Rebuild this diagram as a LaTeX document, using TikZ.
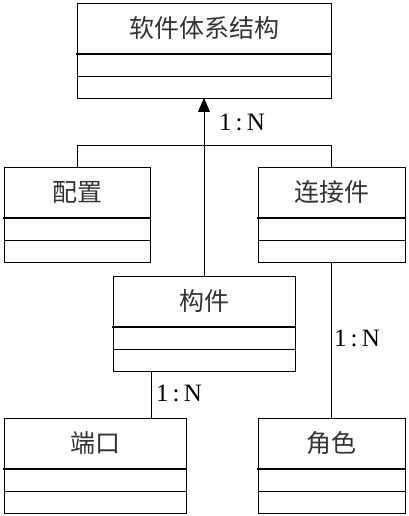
\documentclass[tikz,border=0pt]{standalone}
\usepackage{fontspec}
\setmainfont{Liberation Serif}
\newfontfamily\cjk{Noto Sans CJK SC}
\usepackage{tikz}
\usetikzlibrary{positioning,arrows.meta}

\begin{document}
\begin{tikzpicture}[x=1pt,y=-1pt]
\tikzstyle{every node}=[inner sep=0pt,outer sep=0pt];
\tikzstyle{title}=[draw,line width=0.8pt,minimum height=51pt,font=\cjk\fontsize{25pt}{30pt}\selectfont,text=black!80];
\tikzstyle{slot}=[draw,line width=0.8pt,minimum height=22pt];
\tikzstyle{bar}=[line width=2.4pt,line cap=rect];
\tikzstyle{link}=[line width=0.8pt];
\tikzstyle{mult}=[font=\fontsize{25pt}{28pt}\selectfont];
\useasboundingbox (0,0) rectangle (408,516);
% classes
\node[title,minimum width=254pt] (arch) at (204,28.5) {软件体系结构};
\node[slot,minimum width=254pt,below=0pt of arch] (arch2) {};
\node[slot,minimum width=254pt,below=0pt of arch2] (arch3) {};
\draw[bar] (arch.south west) -- (arch.south east);

\node[title,minimum width=146pt] (pz) at (77,192.5) {配置};
\node[slot,minimum width=146pt,below=0pt of pz] (pz2) {};
\node[slot,minimum width=146pt,below=0pt of pz2] (pz3) {};
\draw[bar] (pz.south west) -- (pz.south east);

\node[title,minimum width=147pt] (ljj) at (331.5,192.5) {连接件};
\node[slot,minimum width=147pt,below=0pt of ljj] (ljj2) {};
\node[slot,minimum width=147pt,below=0pt of ljj2] (ljj3) {};
\draw[bar] (ljj.south west) -- (ljj.south east);

\node[title,minimum width=182pt] (gj) at (204,301.5) {构件};
\node[slot,minimum width=182pt,below=0pt of gj] (gj2) {};
\node[slot,minimum width=182pt,below=0pt of gj2] (gj3) {};
\draw[bar] (gj.south west) -- (gj.south east);

\node[title,minimum width=182pt] (dk) at (95,443.5) {端口};
\node[slot,minimum width=182pt,below=0pt of dk] (dk2) {};
\node[slot,minimum width=182pt,below=0pt of dk2] (dk3) {};
\draw[bar] (dk.south west) -- (dk.south east);

\node[title,minimum width=147pt] (js) at (331.5,443.5) {角色};
\node[slot,minimum width=147pt,below=0pt of js] (js2) {};
\node[slot,minimum width=147pt,below=0pt of js2] (js3) {};
\draw[bar] (js.south west) -- (js.south east);

% links
\draw[link,-{Triangle[width=12pt,length=14pt]}] (gj.north) -- (arch3.south);
\draw[link] (pz.north) -- ++(0,-22) -| (ljj.north);
\node[mult] (m1) at (242,122) {1\,:\,N};
\draw[link] (ljj3.south) -- (js.north);
\node[mult] (m2) at (357,338) {1\,:\,N};
\coordinate (port) at ([xshift=-53pt]gj3.south);
\draw[link] (port) -- (port |- dk.north);
\node[mult] (m3) at (179,393) {1\,:\,N};
\end{tikzpicture}
\end{document}
